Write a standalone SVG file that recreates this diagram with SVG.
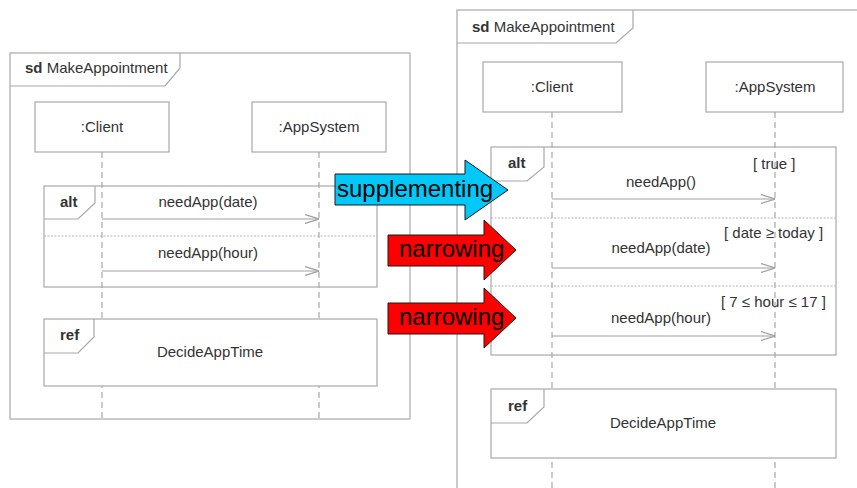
<svg xmlns="http://www.w3.org/2000/svg" width="857" height="488" viewBox="0 0 857 488">
  <defs>
    <style>
      .frame { fill: #ffffff; stroke: #a8a8a8; stroke-width: 1.2; }
      .tab { fill: none; stroke: #a8a8a8; stroke-width: 1.2; }
      .box { fill: #ffffff; stroke: #a8a8a8; stroke-width: 1.2; }
      .life { fill: none; stroke: #a8a8a8; stroke-width: 1.2; stroke-dasharray: 6 4; }
      .sep { fill: none; stroke: #b4b4b4; stroke-width: 1; stroke-dasharray: 2 1.5; }
      .msg { fill: none; stroke: #a0a0a0; stroke-width: 1.2; marker-end: url(#open); }
      .t { font-family: "Liberation Sans", Arial, sans-serif; font-size: 15px; fill: #333333; }
      .c { text-anchor: middle; }
      .b { font-weight: bold; }
      .big { font-family: "Liberation Sans", Arial, sans-serif; font-size: 24px; fill: #000000; }
      .blue { fill: #00c8f8; stroke: #1a1a1a; stroke-width: 1; }
      .red { fill: #ff0000; stroke: #1a1a1a; stroke-width: 1; }
    </style>
    <marker id="open" viewBox="0 0 14 10" refX="14" refY="5" markerWidth="14" markerHeight="10" markerUnits="userSpaceOnUse" orient="auto">
      <path d="M0,0.5 L14,5 L0,9.5" fill="none" stroke="#a0a0a0" stroke-width="1.2"/>
    </marker>
  </defs>

  <!-- Left sequence diagram -->
  <g id="left-frame">
    <rect class="frame" x="10" y="53" width="400" height="366"/>
    <path class="tab" d="M180,53 V68 L165,86 H10"/>
    <text class="t" x="25" y="73"><tspan class="b">sd</tspan> MakeAppointment</text>
  </g>
  <g id="left-lifelines">
    <line class="life" x1="102" y1="152" x2="102" y2="419"/>
    <line class="life" x1="319" y1="152" x2="319" y2="419"/>
  </g>
  <g id="left-client">
    <rect class="box" x="35" y="102" width="134" height="50"/>
    <text class="t c" x="102" y="132">:Client</text>
  </g>
  <g id="left-appsystem">
    <rect class="box" x="252" y="102" width="134" height="50"/>
    <text class="t c" x="319" y="132">:AppSystem</text>
  </g>
  <g id="left-alt">
    <rect x="44" y="186" width="333" height="101" fill="none" stroke="#a8a8a8" stroke-width="1.2"/>
    <path class="tab" d="M95,186 V203 L78,219 H44"/>
    <text class="t b" x="60" y="207">alt</text>
    <line class="sep" x1="44" y1="236" x2="377" y2="236"/>
  </g>
  <g id="left-ref">
    <rect class="frame" x="44" y="319" width="333" height="67"/>
    <path class="tab" d="M94,319 V337 L78,353 H44"/>
    <text class="t b" x="60" y="340">ref</text>
    <text class="t c" x="210" y="357">DecideAppTime</text>
  </g>
  <g id="left-messages">
    <line class="msg" x1="102" y1="219" x2="319" y2="219"/>
    <text class="t c" x="208" y="207">needApp(date)</text>
    <line class="msg" x1="102" y1="271" x2="319" y2="271"/>
    <text class="t c" x="208" y="258">needApp(hour)</text>
  </g>

  <!-- Right sequence diagram -->
  <g id="right-frame">
    <rect class="frame" x="457" y="10" width="420" height="500"/>
    <path class="tab" d="M633,10 V28 L616,43 H457"/>
    <text class="t" x="472" y="32"><tspan class="b">sd</tspan> MakeAppointment</text>
  </g>
  <g id="right-lifelines">
    <line class="life" x1="552" y1="112" x2="552" y2="488"/>
    <line class="life" x1="775" y1="112" x2="775" y2="488"/>
  </g>
  <g id="right-client">
    <rect class="box" x="483" y="62" width="139" height="50"/>
    <text class="t c" x="552" y="92">:Client</text>
  </g>
  <g id="right-appsystem">
    <rect class="box" x="706" y="62" width="137" height="50"/>
    <text class="t c" x="775" y="92">:AppSystem</text>
  </g>
  <g id="right-alt">
    <rect x="491" y="147" width="345" height="208" fill="none" stroke="#a8a8a8" stroke-width="1.2"/>
    <path class="tab" d="M544,147 V167 L527,181 H491"/>
    <text class="t b" x="508" y="168">alt</text>
    <line class="sep" x1="491" y1="218" x2="836" y2="218"/>
    <line class="sep" x1="491" y1="286" x2="836" y2="286"/>
    <text class="t" x="753" y="169">[ true ]</text>
    <text class="t" x="724" y="238">[ date ≥ today ]</text>
    <text class="t" x="721" y="307">[ 7 ≤ hour ≤ 17 ]</text>
  </g>
  <g id="right-ref">
    <rect class="frame" x="491" y="389" width="345" height="69"/>
    <path class="tab" d="M544,389 V407 L527,423 H491"/>
    <text class="t b" x="508" y="411">ref</text>
    <text class="t c" x="663" y="428">DecideAppTime</text>
  </g>
  <g id="right-messages">
    <line class="msg" x1="552" y1="199" x2="775" y2="199"/>
    <text class="t c" x="661" y="187">needApp()</text>
    <line class="msg" x1="552" y1="268" x2="775" y2="268"/>
    <text class="t c" x="661" y="253">needApp(date)</text>
    <line class="msg" x1="552" y1="336" x2="775" y2="336"/>
    <text class="t c" x="661" y="323">needApp(hour)</text>
  </g>

  <!-- Block arrows between the two diagrams -->
  <g id="supplementing">
    <polygon class="blue" points="335,174 465,174 465,160 508,190 465,220 465,205 335,205"/>
    <text class="big" x="337" y="197">supplementing</text>
  </g>
  <g id="narrowing-1">
    <polygon class="red" points="388,235 484,235 484,220 516,250 484,280 484,266 388,266"/>
    <text class="big" x="399" y="257">narrowing</text>
  </g>
  <g id="narrowing-2">
    <polygon class="red" points="388,303 484,303 484,288 516,318 484,348 484,334 388,334"/>
    <text class="big" x="399" y="325">narrowing</text>
  </g>
</svg>
